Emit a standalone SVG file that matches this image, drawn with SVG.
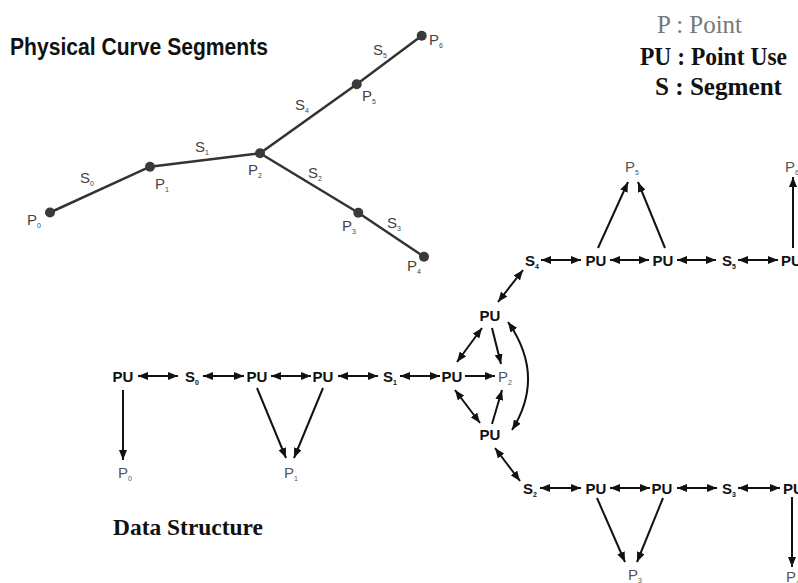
<svg xmlns="http://www.w3.org/2000/svg" width="798" height="583" viewBox="0 0 798 583">
  <style>
    .title { font-family: "Liberation Sans", Arial, sans-serif; font-weight: bold; font-size: 23px; fill: #111; }
    .head { font-family: "Liberation Serif", "Times New Roman", serif; font-weight: bold; font-size: 24px; fill: #111; }
    .legend { font-family: "Liberation Serif", "Times New Roman", serif; font-weight: bold; font-size: 25px; fill: #111; }
    .legend.grey { fill: #777; font-weight: normal; }
    .plab { font-family: "Liberation Sans", Arial, sans-serif; font-size: 15px; fill: #444; }
    .node { font-family: "Liberation Sans", Arial, sans-serif; font-weight: bold; font-size: 15px; fill: #111; }
    .pt { font-family: "Liberation Sans", Arial, sans-serif; font-size: 15px; fill: #555; }
    .sub { font-size: 7px; }
    .seg { stroke: #333; stroke-width: 2.5; fill: none; stroke-linecap: round; }
    .dot { fill: #3a3a3a; }
    .arr { stroke: #111; stroke-width: 2; fill: none; }
    .one { marker-end: url(#ah); }
    .two { marker-start: url(#ah); marker-end: url(#ah); }
  </style>
  <defs>
    <marker id="ah" viewBox="0 0 10 8" refX="10" refY="4" markerWidth="10" markerHeight="8" markerUnits="userSpaceOnUse" orient="auto-start-reverse">
      <path d="M0,0 L10,4 L0,8 Z" fill="#111"/>
    </marker>
  </defs>
  <rect width="798" height="583" fill="#fff"/>

  <!-- headings -->
  <text class="title" x="10" y="55" textLength="258" lengthAdjust="spacingAndGlyphs">Physical Curve Segments</text>
  <text class="head" x="113" y="535" textLength="150" lengthAdjust="spacingAndGlyphs">Data Structure</text>

  <!-- legend -->
  <g id="legend">
    <text class="legend grey" x="657" y="33" textLength="85" lengthAdjust="spacingAndGlyphs">P : Point</text>
    <text class="legend" x="640" y="65" textLength="147" lengthAdjust="spacingAndGlyphs">PU : Point Use</text>
    <text class="legend" x="655" y="95" textLength="127" lengthAdjust="spacingAndGlyphs">S : Segment</text>
  </g>

  <!-- physical curve: segments -->
  <g id="curve-segments">
    <polyline class="seg" points="50,212.5 150,166.7 260,153.3 356.7,84.3 421.7,35.7"/>
    <polyline class="seg" points="260,153.3 358.3,212.7 424,256.7"/>
  </g>
  <g id="curve-segment-labels" class="plab">
    <text x="80" y="183">S<tspan class="sub" dy="3">0</tspan></text>
    <text x="195" y="152">S<tspan class="sub" dy="3">1</tspan></text>
    <text x="308" y="178">S<tspan class="sub" dy="3">2</tspan></text>
    <text x="387" y="228">S<tspan class="sub" dy="3">3</tspan></text>
    <text x="295" y="110">S<tspan class="sub" dy="3">4</tspan></text>
    <text x="373" y="55">S<tspan class="sub" dy="3">5</tspan></text>
  </g>
  <!-- physical curve: points -->
  <g id="pt-P0"><circle class="dot" cx="50" cy="212.5" r="5"/><text class="plab" x="27" y="225">P<tspan class="sub" dy="3">0</tspan></text></g>
  <g id="pt-P1"><circle class="dot" cx="150" cy="166.7" r="5"/><text class="plab" x="155" y="189">P<tspan class="sub" dy="3">1</tspan></text></g>
  <g id="pt-P2"><circle class="dot" cx="260" cy="153.3" r="5"/><text class="plab" x="248" y="175">P<tspan class="sub" dy="3">2</tspan></text></g>
  <g id="pt-P3"><circle class="dot" cx="358.3" cy="212.7" r="5"/><text class="plab" x="342" y="231">P<tspan class="sub" dy="3">3</tspan></text></g>
  <g id="pt-P4"><circle class="dot" cx="424" cy="256.7" r="5"/><text class="plab" x="407" y="271">P<tspan class="sub" dy="3">4</tspan></text></g>
  <g id="pt-P5"><circle class="dot" cx="356.7" cy="84.3" r="5"/><text class="plab" x="362" y="101">P<tspan class="sub" dy="3">5</tspan></text></g>
  <g id="pt-P6"><circle class="dot" cx="421.7" cy="35.7" r="5"/><text class="plab" x="429" y="45">P<tspan class="sub" dy="3">6</tspan></text></g>

  <!-- data structure: connectors -->
  <g id="connectors" class="arr">
    <!-- main row -->
    <line class="two" x1="138" y1="376" x2="178" y2="376"/>
    <line class="two" x1="203" y1="376" x2="244" y2="376"/>
    <line class="two" x1="271" y1="376" x2="311" y2="376"/>
    <line class="two" x1="338" y1="376" x2="378" y2="376"/>
    <line class="two" x1="400" y1="376" x2="440" y2="376"/>
    <line class="one" x1="465" y1="376" x2="495" y2="376"/>
    <line class="one" x1="123" y1="390" x2="123" y2="460"/>
    <line class="one" x1="257" y1="388" x2="286" y2="458"/>
    <line class="one" x1="323" y1="388" x2="294" y2="458"/>
    <!-- junction at P2 -->
    <line class="two" x1="457" y1="362" x2="482" y2="328"/>
    <line class="two" x1="455" y1="390" x2="480" y2="423"/>
    <line class="one" x1="492" y1="328" x2="501" y2="364"/>
    <line class="one" x1="492" y1="424" x2="502" y2="390"/>
    <path class="two" d="M508,322 Q546,376 512,430"/>
    <!-- upper branch -->
    <line class="two" x1="498" y1="302" x2="523" y2="270"/>
    <line class="two" x1="541" y1="260" x2="581" y2="260"/>
    <line class="two" x1="610" y1="260" x2="649" y2="260"/>
    <line class="two" x1="677" y1="260" x2="716" y2="260"/>
    <line class="two" x1="738" y1="260" x2="778" y2="260"/>
    <line class="one" x1="598" y1="248" x2="628" y2="182"/>
    <line class="one" x1="665" y1="248" x2="638" y2="182"/>
    <line class="one" x1="793" y1="248" x2="793" y2="177"/>
    <!-- lower branch -->
    <line class="two" x1="495" y1="448" x2="520" y2="481"/>
    <line class="two" x1="540" y1="488" x2="581" y2="488"/>
    <line class="two" x1="610" y1="488" x2="650" y2="488"/>
    <line class="two" x1="677" y1="488" x2="717" y2="488"/>
    <line class="two" x1="738" y1="488" x2="780" y2="488"/>
    <line class="one" x1="597" y1="498" x2="625" y2="562"/>
    <line class="one" x1="663" y1="498" x2="637" y2="562"/>
    <line class="one" x1="792" y1="497" x2="792" y2="567"/>
  </g>

  <!-- data structure: nodes -->
  <g id="pu-a"><text class="node" x="123" y="382" text-anchor="middle">PU</text></g>
  <g id="seg-S0"><text class="node" x="185" y="382">S<tspan class="sub" dy="3">0</tspan></text></g>
  <g id="pu-b"><text class="node" x="257" y="382" text-anchor="middle">PU</text></g>
  <g id="pu-c"><text class="node" x="323" y="382" text-anchor="middle">PU</text></g>
  <g id="seg-S1"><text class="node" x="383" y="382">S<tspan class="sub" dy="3">1</tspan></text></g>
  <g id="pu-d"><text class="node" x="452" y="382" text-anchor="middle">PU</text></g>
  <g id="pu-e"><text class="node" x="490" y="321" text-anchor="middle">PU</text></g>
  <g id="pu-f"><text class="node" x="490" y="440" text-anchor="middle">PU</text></g>
  <g id="seg-S4"><text class="node" x="525" y="266">S<tspan class="sub" dy="3">4</tspan></text></g>
  <g id="pu-g"><text class="node" x="596" y="266" text-anchor="middle">PU</text></g>
  <g id="pu-h"><text class="node" x="663" y="266" text-anchor="middle">PU</text></g>
  <g id="seg-S5"><text class="node" x="722" y="266">S<tspan class="sub" dy="3">5</tspan></text></g>
  <g id="pu-i"><text class="node" x="781" y="266">PU</text></g>
  <g id="seg-S2"><text class="node" x="523" y="494">S<tspan class="sub" dy="3">2</tspan></text></g>
  <g id="pu-j"><text class="node" x="596" y="494" text-anchor="middle">PU</text></g>
  <g id="pu-k"><text class="node" x="662" y="494" text-anchor="middle">PU</text></g>
  <g id="seg-S3"><text class="node" x="722" y="494">S<tspan class="sub" dy="3">3</tspan></text></g>
  <g id="pu-l"><text class="node" x="783" y="494">PU</text></g>

  <g id="ds-P0"><text class="pt" x="118" y="478">P<tspan class="sub" dy="3">0</tspan></text></g>
  <g id="ds-P1"><text class="pt" x="284" y="478">P<tspan class="sub" dy="3">1</tspan></text></g>
  <g id="ds-P2"><text class="pt" x="498" y="382">P<tspan class="sub" dy="3">2</tspan></text></g>
  <g id="ds-P5"><text class="pt" x="625" y="172">P<tspan class="sub" dy="3">5</tspan></text></g>
  <g id="ds-P6"><text class="pt" x="785" y="172">P<tspan class="sub" dy="3">6</tspan></text></g>
  <g id="ds-P3"><text class="pt" x="628" y="580">P<tspan class="sub" dy="3">3</tspan></text></g>
  <g id="ds-P4"><text class="pt" x="786" y="582">P<tspan class="sub" dy="3">4</tspan></text></g>
</svg>
